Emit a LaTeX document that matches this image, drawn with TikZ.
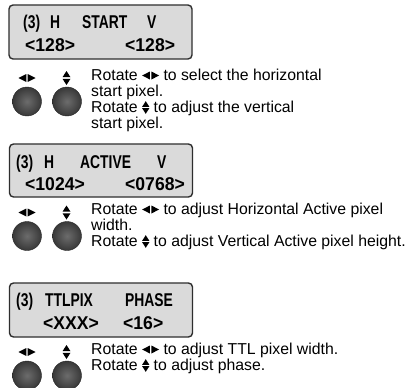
\documentclass[tikz,border=0pt]{standalone}
\usepackage{fontspec}
\setmainfont{Liberation Sans}
\newfontfamily\lcdfont[FakeStretch=0.75]{Liberation Sans}
\newfontfamily\lcdnumfont[FakeStretch=0.95]{Liberation Sans}
\usepackage{xcolor}
\definecolor{lcdc}{HTML}{DADADA}
\definecolor{framec}{HTML}{2E2E2E}
\definecolor{knobin}{HTML}{6C6C6C}
\definecolor{knobout}{HTML}{383838}

\tikzset{
  lrmark/.pic={
    \fill (-0.7,4) -- (-8.5,0) -- (-0.7,-4) -- cycle;
    \fill (0.7,4) -- (8.5,0) -- (0.7,-4) -- cycle;},
  udmark/.pic={
    \fill (-4,0.8) -- (0,7) -- (4,0.8) -- cycle;
    \fill (-4,-0.8) -- (0,-7) -- (4,-0.8) -- cycle;}
}
% rotate marks in running text: left/right and up/down
\newcommand{\lrglyph}{\tikz[x=1pt,y=1pt,baseline=-4.5pt]\pic{lrmark};}
\newcommand{\udglyph}{\tikz[x=0.9pt,y=0.9pt,baseline=-4.5pt]\pic{udmark};}

\begin{document}
\begin{tikzpicture}[x=1pt,y=-1pt,
  lcd/.style={draw=framec, line width=1.4pt, fill=lcdc, rounded corners=4pt,
    minimum width=183pt, minimum height=54pt, inner sep=0pt},
  lcdword/.style={anchor=base west, inner sep=0pt,
    font=\lcdfont\bfseries\fontsize{18.5}{18}\selectfont},
  lcdnum/.style={anchor=base west, inner sep=0pt,
    font=\lcdnumfont\bfseries\fontsize{18.5}{18}\selectfont},
  knob/.style={circle, minimum size=29pt, inner sep=0pt, draw=black!85,
    line width=0.4pt, inner color=knobin, outer color=knobout},
  hint/.style={anchor=base west, inner sep=0pt,
    font=\fontsize{15.8}{16}\selectfont}]
  \useasboundingbox (0,0) rectangle (410,388);
  \fill[white] (0,0) rectangle (410,388);

  % ==========================================================
  %                     START
  % ==========================================================
  \node[lcd] (lcdStart) at (100.5,32) {};
  \node[lcdword] (startNo) at (23,28) {(3)};
  \node[lcdword] (startH) at (50,28) {H};
  \node[lcdword] (startName) at (82,28) {START};
  \node[lcdword] (startV) at (147,28) {V};
  \node[lcdnum] (startHval) at (25,51) {<128>};
  \node[lcdnum] (startVval) at (125,51) {<128>};

  \pic (startLR) at (27,78) {lrmark};
  \pic (startUD) at (66.5,78) {udmark};
  \node[knob] (startKnobH) at (27,101.5) {};
  \node[knob] (startKnobV) at (67,101.5) {};
  \node[hint] (startHintA) at (91,80) {Rotate \lrglyph{} to select the horizontal};
  \node[hint] (startHintB) at (91,96) {start pixel.};
  \node[hint] (startHintC) at (91,112) {Rotate \udglyph{} to adjust the vertical};
  \node[hint] (startHintD) at (91,128) {start pixel.};

  % ==========================================================
  %                     ACTIVE
  % ==========================================================
  \node[lcd, minimum height=53pt] (lcdActive) at (101,170.5) {};
  \node[lcdword] (activeNo) at (16,168) {(3)};
  \node[lcdword] (activeH) at (44,168) {H};
  \node[lcdword] (activeName) at (80,168) {ACTIVE};
  \node[lcdword] (activeV) at (157,168) {V};
  \node[lcdnum] (activeHval) at (25,190) {<1024>};
  \node[lcdnum] (activeVval) at (125,190) {<0768>};

  \pic (activeLR) at (27,212.5) {lrmark};
  \pic (activeUD) at (66.5,212.5) {udmark};
  \node[knob] (activeKnobH) at (27,236) {};
  \node[knob] (activeKnobV) at (67,236) {};
  \node[hint] (activeHintA) at (91,214) {Rotate \lrglyph{} to adjust Horizontal Active pixel};
  \node[hint] (activeHintB) at (91,230) {width.};
  \node[hint] (activeHintC) at (91,246) {Rotate \udglyph{} to adjust Vertical Active pixel height.};

  % ==========================================================
  %                     TTL PIXEL / PHASE
  % ==========================================================
  \node[lcd] (lcdTtl) at (101,310) {};
  \node[lcdword] (ttlNo) at (16,306) {(3)};
  \node[lcdword] (ttlName) at (45,306) {TTLPIX};
  \node[lcdword] (phaseName) at (125,306) {PHASE};
  \node[lcdnum] (ttlVal) at (43,329) {<XXX>};
  \node[lcdnum] (phaseVal) at (123,329) {<16>};

  \pic (ttlLR) at (27,352) {lrmark};
  \pic (ttlUD) at (66.5,352) {udmark};
  \node[knob] (ttlKnob) at (27,375.5) {};
  \node[knob] (phaseKnob) at (67,375.5) {};
  \node[hint] (ttlHintA) at (91,354) {Rotate \lrglyph{} to adjust TTL pixel width.};
  \node[hint] (ttlHintB) at (91,370) {Rotate \udglyph{} to adjust phase.};
\end{tikzpicture}
\end{document}
